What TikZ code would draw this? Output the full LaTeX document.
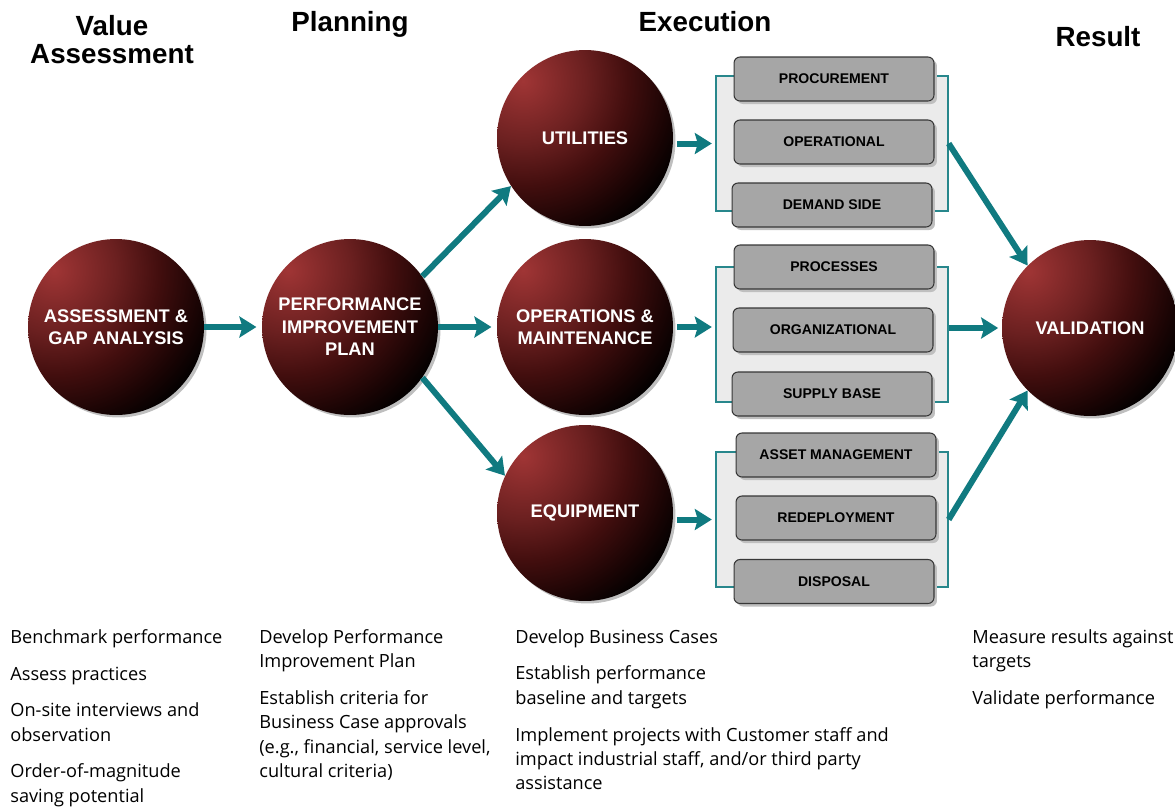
\documentclass[tikz,border=0pt]{standalone}
\usepackage{fontspec}
\setmainfont{Open Sans}
\newfontfamily\arialfont{Liberation Sans}
\usepackage{tikz}
\usetikzlibrary{positioning,shadows,arrows.meta,shapes,calc}

\definecolor{tealArrow}{RGB}{16,122,128}
\definecolor{tealLine}{RGB}{40,135,140}
\definecolor{panelGray}{RGB}{235,235,235}
\definecolor{boxGray}{RGB}{166,166,166}
\definecolor{boxLine}{RGB}{55,55,55}
\definecolor{ballA}{RGB}{160,53,53}
\definecolor{ballB}{RGB}{107,32,32}
\definecolor{ballC}{RGB}{66,14,14}
\definecolor{ballD}{RGB}{26,4,4}

% the central 50bp of a shading is what covers the path
\pgfdeclareradialshading{redglow}{\pgfpointorigin}{color(0bp)=(ballA); color(9bp)=(ballB); color(15bp)=(ballC); color(21bp)=(ballD); color(25bp)=(black); color(50bp)=(black)}

\tikzset {
    style A/.style={
        circle, % Set the shape as a circle
        minimum size=3.52cm,
        inner sep=0pt,
        align=center,
        text=white,
        font=\arialfont\bfseries\fontsize{10.4}{12.8}\selectfont,
        drop shadow={shadow xshift=0.05cm, shadow yshift=-0.05cm, fill=black!25, opacity=1},
        path picture={\shade[shading=redglow] ($(path picture bounding box.center)+(-62,-57)$) circle (3.5cm);},
    },
    style B/.style={
        rectangle, % Set the shape as a rectangle
        rounded corners=0.12cm,
        minimum width=4cm,
        minimum height=0.88cm,
        inner sep=0pt,
        fill=boxGray,
        draw=boxLine,
        line width=0.6pt,
        font=\arialfont\bfseries\fontsize{8}{9.6}\selectfont,
        drop shadow={shadow xshift=0.06cm, shadow yshift=-0.06cm, fill=black!25, opacity=1},
    },
    style C/.style={
        rectangle, % Set the shape as a rectangle
        minimum width=4.64cm,
        minimum height=2.7cm,
        inner sep=0pt,
        fill=panelGray,
        draw=tealLine,
        line width=0.8pt,
    },
    style D/.style={
        draw=tealArrow,
        line width=0.12cm,
        -{Stealth[length=0.34cm, width=0.42cm, inset=0.06cm]},
    },
    style E/.style={
        anchor=north west,
        align=left,
        inner sep=0pt,
        font=\fontsize{10.35}{13.9}\selectfont,
    },
    style F/.style={
        inner sep=0pt,
        align=center,
        font=\arialfont\bfseries\fontsize{15.8}{16.2}\selectfont,
    },
}

\begin{document}
\begin{tikzpicture}[x=0.02cm, y=-0.02cm]
        \useasboundingbox (0,0) rectangle (1175,809);

        % headings
        \node[style F, anchor=north] at (112,15) (valueHead) {Value\\Assessment};
        \node[style F, anchor=base] at (350,31) (planHead) {Planning};
        \node[style F, anchor=base] at (705,31) (execHead) {Execution};
        \node[style F, anchor=base] at (1098,46) (resultHead) {Result};

        % panels behind the boxes
        \node[style C] at (832,143.5) (panelU) {};
        \node[style C] at (832,334.5) (panelO) {};
        \node[style C] at (832,519.5) (panelE) {};

        \node[style B] at (834,79) (procure) {PROCUREMENT};
        \node[style B] at (834,142) (operational) {OPERATIONAL};
        \node[style B] at (832,205) (demand) {DEMAND SIDE};
        \node[style B] at (834,267) (processes) {PROCESSES};
        \node[style B] at (833,330) (organiz) {ORGANIZATIONAL};
        \node[style B] at (832,394) (supply) {SUPPLY BASE};
        \node[style B] at (836,455) (asset) {ASSET MANAGEMENT};
        \node[style B] at (836,518) (redeploy) {REDEPLOYMENT};
        \node[style B] at (834,581.5) (disposal) {DISPOSAL};

        % circles
        \node[style A] at (116,327) (assess) {ASSESSMENT \&\\GAP ANALYSIS};
        \node[style A] at (350,327) (plan) {PERFORMANCE\\IMPROVEMENT\\PLAN};
        \node[style A] at (585,138) (util) {UTILITIES};
        \node[style A] at (585,327) (ops) {OPERATIONS \&\\MAINTENANCE};
        \node[style A] at (585,513) (equip) {EQUIPMENT};
        \node[style A] at (1090,328) (valid) {VALIDATION};

        \draw[style D, shorten >=3] (assess) -- (plan);
        \draw[style D] (plan.35) -- (util.213);
        \draw[style D, shorten >=3] (plan) -- (ops);
        \draw[style D] (plan.-35) -- (equip.155);
        \draw[style D, shorten <=2, shorten >=2] (util.east |- panelU.west) -- (panelU.west);
        \draw[style D, shorten <=2, shorten >=2] (ops.east) -- (ops.east -| panelO.west);
        \draw[style D, shorten <=2, shorten >=2] (equip.east |- panelE.west) -- (panelE.west);
        \draw[style D] (panelU.east) -- (valid.135);
        \draw[style D, shorten >=2] (valid.west -| panelO.east) -- (valid.west);
        \draw[style D] (panelE.east) -- (valid.225);

        % notes under each column
        \node[style E] at (10,629) (assessNotes) {Benchmark performance\\[7pt]
            Assess practices\\[7pt]
            On-site interviews and\\observation\\[7pt]
            Order-of-magnitude\\saving potential};
        \node[style E] at (259,629) (planNotes) {Develop Performance\\Improvement Plan\\[7pt]
            Establish criteria for\\Business Case approvals\\(e.g., financial, service level,\\cultural criteria)};
        \node[style E] at (515,629) (execNotes) {Develop Business Cases\\[7pt]
            Establish performance\\baseline and targets\\[7pt]
            Implement projects with Customer staff and\\impact industrial staff, and/or third party\\assistance};
        \node[style E] at (972,629) (resultNotes) {Measure results against\\targets\\[7pt]
            Validate performance};
    \end{tikzpicture}
\end{document}
